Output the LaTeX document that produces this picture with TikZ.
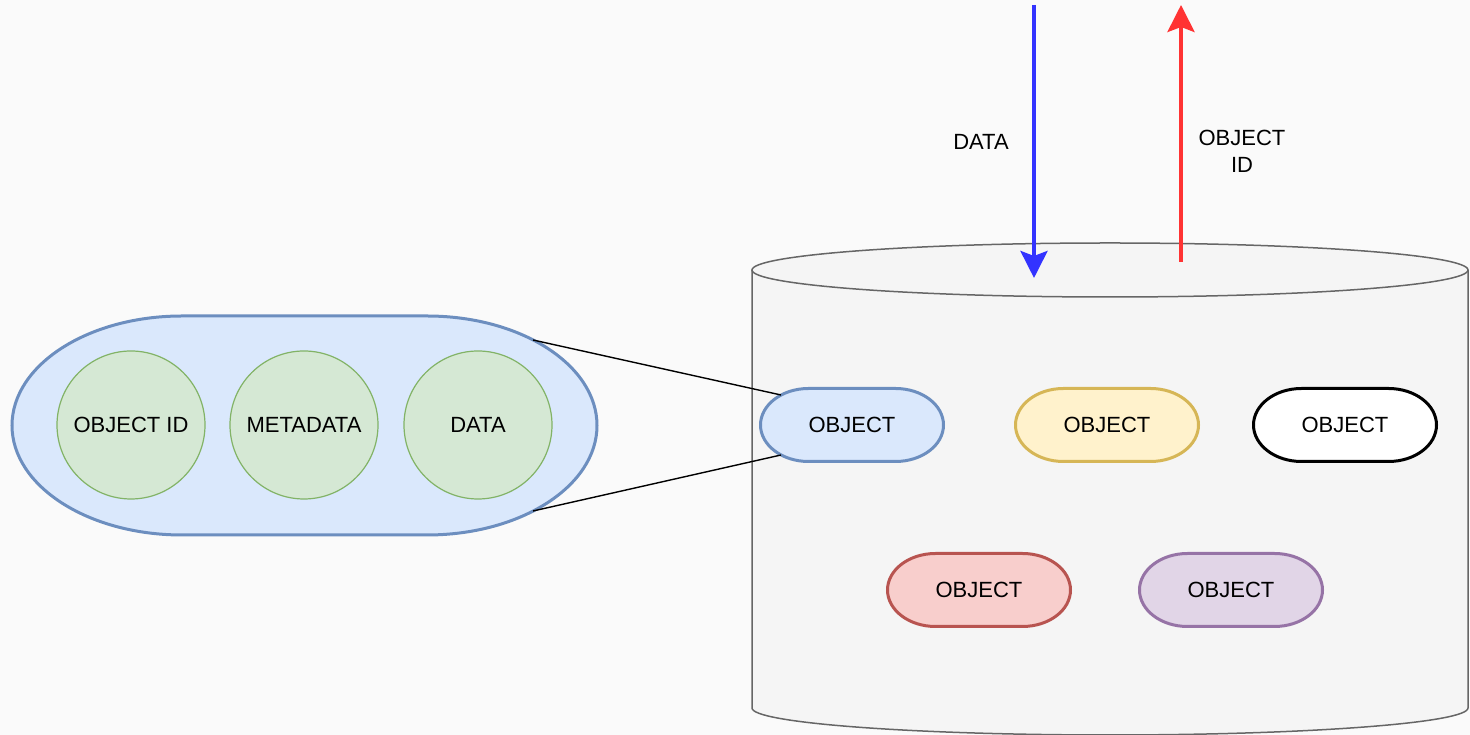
\documentclass[tikz,border=0pt]{standalone}
\usepackage{fontspec}
\setmainfont{Liberation Sans}
\usetikzlibrary{arrows.meta,calc}

\definecolor{canvas}{HTML}{FAFAFA}
\definecolor{cylfill}{HTML}{F5F5F5}
\definecolor{cyldraw}{HTML}{666666}
\definecolor{bluefill}{HTML}{DAE8FC}
\definecolor{bluedraw}{HTML}{6C8EBF}
\definecolor{greenfill}{HTML}{D5E8D4}
\definecolor{greendraw}{HTML}{82B366}
\definecolor{yellowfill}{HTML}{FFF2CC}
\definecolor{yellowdraw}{HTML}{D6B656}
\definecolor{redfill}{HTML}{F8CECC}
\definecolor{reddraw}{HTML}{B85450}
\definecolor{purplefill}{HTML}{E1D5E7}
\definecolor{purpledraw}{HTML}{9673A6}
\definecolor{inflow}{HTML}{3333FF}
\definecolor{outflow}{HTML}{FF3333}

\tikzset{
  storage/.style={fill=cylfill, draw=cyldraw, line width=1.5pt},
  bigpill/.style={fill=bluefill, draw=bluedraw, line width=3pt},
  field/.style={circle, minimum size=148pt, inner sep=0pt, fill=greenfill, draw=greendraw, line width=1.2pt},
  objbody/.style={line width=3pt},
  objlabel/.style={rectangle, minimum width=183pt, minimum height=73pt, inner sep=0pt},
  zoomline/.style={draw=black, line width=1.4pt},
  flow/.style={line width=4pt, -{Stealth[length=27pt, width=27pt, inset=5pt]}},
  caption/.style={align=center, inner sep=0pt}
}

% capsule with elliptical ends, centred at (#1,#2)
\newcommand\capsuleat[3]{%
  \path[objbody, #3] ({#1-43.5},{#2+36.5}) -- ({#1+43.5},{#2+36.5})
    arc[start angle=90, end angle=-90, x radius=48, y radius=36.5]
    -- ({#1-43.5},{#2-36.5})
    arc[start angle=270, end angle=90, x radius=48, y radius=36.5] -- cycle;}

\begin{document}
\begin{tikzpicture}[x=1pt, y=1pt, font=\fontsize{22}{27}\selectfont]
  \fill[canvas] (0,0) rectangle (1470,735);
  \useasboundingbox (0,0) rectangle (1470,735);

  % storage cylinder
  \path[storage] (752,465) -- (752,27)
    arc[start angle=180, end angle=360, x radius=358, y radius=27] -- (1468,465);
  \path[storage] (1110,465) ellipse[x radius=358, y radius=27];

  % expanded object
  \path[bigpill] (182,419) -- (427,419)
    arc[start angle=90, end angle=-90, x radius=170, y radius=109.5] -- (182,200)
    arc[start angle=270, end angle=90, x radius=170, y radius=109.5] -- cycle;
  \coordinate (pillTop) at (533,395);
  \coordinate (pillBot) at (533,224);

  \node[field] (fid)   at (131,310) {OBJECT ID};
  \node[field] (fmeta) at (304,310) {METADATA};
  \node[field] (fdata) at (478,310) {DATA};

  % stored objects
  \capsuleat{852}{310}{fill=bluefill, draw=bluedraw}
  \capsuleat{1107}{310}{fill=yellowfill, draw=yellowdraw}
  \capsuleat{1345}{310}{fill=white, draw=black}
  \capsuleat{979}{145}{fill=redfill, draw=reddraw}
  \capsuleat{1231}{145}{fill=purplefill, draw=purpledraw}
  \node[objlabel] (obj1) at (852,310)  {OBJECT};
  \node[objlabel] (obj2) at (1107,310) {OBJECT};
  \node[objlabel] (obj3) at (1345,310) {OBJECT};
  \node[objlabel] (obj4) at (979,145)  {OBJECT};
  \node[objlabel] (obj5) at (1231,145) {OBJECT};

  \draw[zoomline] (pillTop) -- ($(obj1.center)+(-71,30)$);
  \draw[zoomline] (pillBot) -- ($(obj1.center)+(-71,-30)$);

  % data in, id out
  \coordinate (inTop) at (1034,730);
  \coordinate (inEnd) at (1034,457);
  \coordinate (outStart) at (1181,473);
  \coordinate (outTop) at (1181,730);
  \draw[flow, draw=inflow, fill=inflow] (inTop) -- (inEnd);
  \draw[flow, draw=outflow, fill=outflow] (outStart) -- (outTop);

  \node[caption] (lblData) at (981,593) {DATA};
  \node[caption] (lblId) at (1242,584) {OBJECT\\ID};
\end{tikzpicture}
\end{document}
